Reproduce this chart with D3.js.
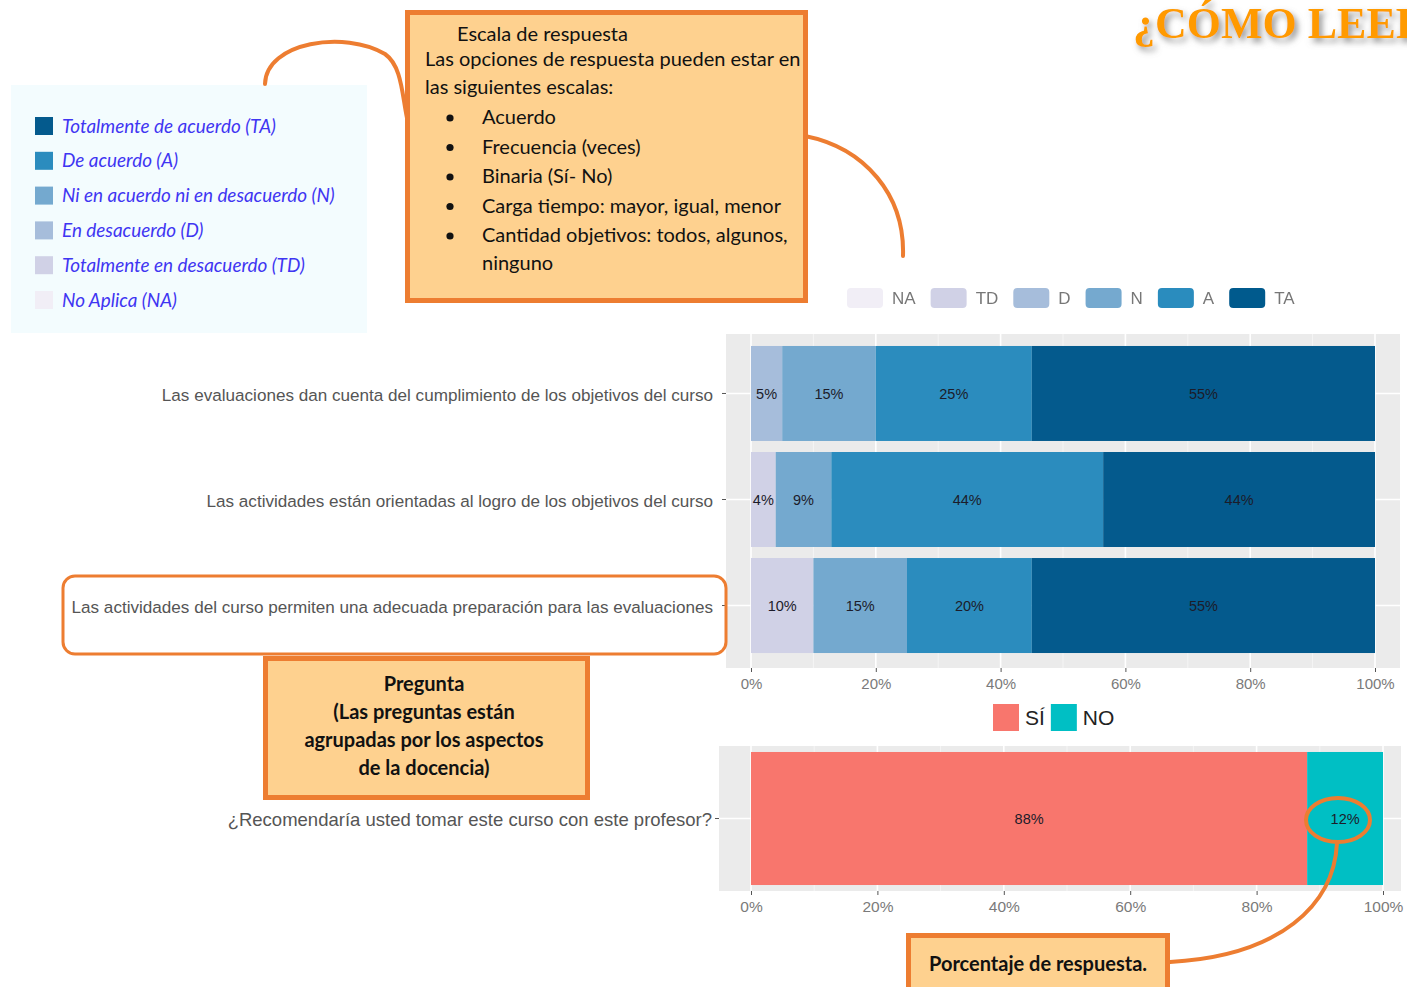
<!DOCTYPE html>
<html><head><meta charset="utf-8">
<script src="https://cdn.jsdelivr.net/npm/d3@7"></script>
<style>
html,body{margin:0;padding:0;background:#fff;overflow:hidden}
svg{display:block}
</style></head><body>
<script>
// ---------- data ----------
const questions = [
  "Las evaluaciones dan cuenta del cumplimiento de los objetivos del curso",
  "Las actividades están orientadas al logro de los objetivos del curso",
  "Las actividades del curso permiten una adecuada preparación para las evaluaciones"
];
const levels = ["NA", "TD", "D", "N", "A", "TA"];
const levelNames = ["No Aplica (NA)", "Totalmente en desacuerdo (TD)", "En desacuerdo (D)",
  "Ni en acuerdo ni en desacuerdo (N)", "De acuerdo (A)", "Totalmente de acuerdo (TA)"];
const levelColors = ["#f1eef6", "#d0d1e6", "#a6bddb", "#74a9cf", "#2b8cbe", "#045a8d"];
const valuesNA = [0, 0, 0];
const valuesTD = [0, 4, 10];
const valuesD  = [5, 0, 0];
const valuesN  = [15, 9, 15];
const valuesA  = [25, 44, 20];
const valuesTA = [55, 44, 55];
const xTicks = [0, 0.2, 0.4, 0.6, 0.8, 1];
const xMinor = [0.1, 0.3, 0.5, 0.7, 0.9];

const binQuestion = ["¿Recomendaría usted tomar este curso con este profesor?"];
const binLevels = ["SÍ", "NO"];
const binColors = ["#F8766D", "#00BFC4"];
const valuesSi = [88];
const valuesNo = [12];

const scaleTitle = "Escala de respuesta";
const scaleIntro = ["Las opciones de respuesta pueden estar en", "las siguientes escalas:"];
const scaleOptions = ["Acuerdo", "Frecuencia (veces)", "Binaria (Sí- No)",
  "Carga tiempo: mayor, igual, menor", "Cantidad objetivos: todos, algunos,"];
const scaleOptionTail = "ninguno";
const preguntaLines = ["Pregunta", "(Las preguntas están", "agrupadas por los aspectos", "de la docencia)"];
const porcentajeText = "Porcentaje de respuesta.";
const pageTitle = "¿CÓMO LEER";

// ---------- setup ----------
const W = 1407, H = 987;
const ORANGE = "#ed7d31", PEACH = "#fed18f";
const svg = d3.select("body").append("svg").attr("width", W).attr("height", H);
const defs = svg.append("defs");
const sh = defs.append("filter").attr("id", "shadow").attr("x", "-20%").attr("y", "-40%").attr("width", "140%").attr("height", "180%");
sh.append("feDropShadow").attr("dx", 3).attr("dy", 4).attr("stdDeviation", 3).attr("flood-color", "#777").attr("flood-opacity", 0.8);
const blur = defs.append("filter").attr("id", "soft");
blur.append("feGaussianBlur").attr("stdDeviation", 0.45);

// ---------- title ----------
svg.append("text").attr("x", 1133).attr("y", 38)
  .attr("font-family", "Liberation Serif, serif").attr("font-weight", "bold")
  .attr("font-size", 44).attr("fill", "#ff9a00").attr("filter", "url(#shadow)")
  .text(pageTitle);

// ---------- left legend ----------
const lg = svg.append("g");
lg.append("rect").attr("x", 11).attr("y", 85).attr("width", 356).attr("height", 248).attr("fill", "#f3fcfe");
const legOrder = d3.range(levels.length).reverse();
const legY = d3.scalePoint().domain(legOrder).range([126, 300]);
legOrder.forEach(i => {
  lg.append("rect").attr("x", 35).attr("y", legY(i) - 9).attr("width", 18).attr("height", 18)
    .attr("fill", levelColors[i]);
  lg.append("text").attr("x", 62).attr("y", legY(i)).attr("dy", "0.35em")
    .attr("font-family", "Lato, sans-serif").attr("font-style", "italic")
    .attr("font-size", 18.9).attr("fill", "#3f35f2").text(levelNames[i]);
});

// ---------- main stacked chart ----------
const x = d3.scaleLinear().domain([0, 1]).range([751, 1375]);
const y = d3.scaleBand().domain(questions).range([334, 665]).paddingInner(0.104).paddingOuter(0.113);
const panel = {x0: 726, x1: 1400, y0: 334, y1: 668};
const g1 = svg.append("g");
g1.append("rect").attr("x", panel.x0).attr("y", panel.y0).attr("width", panel.x1 - panel.x0)
  .attr("height", panel.y1 - panel.y0).attr("fill", "#ebebeb");
xMinor.forEach(t => g1.append("line").attr("x1", x(t)).attr("x2", x(t)).attr("y1", panel.y0).attr("y2", panel.y1)
  .attr("stroke", "#f5f5f5").attr("stroke-width", 1));
xTicks.forEach(t => g1.append("line").attr("x1", x(t)).attr("x2", x(t)).attr("y1", panel.y0).attr("y2", panel.y1)
  .attr("stroke", "#fff").attr("stroke-width", 1.6));
questions.forEach(q => g1.append("line").attr("x1", panel.x0).attr("x2", panel.x1)
  .attr("y1", y(q) + y.bandwidth() / 2).attr("y2", y(q) + y.bandwidth() / 2)
  .attr("stroke", "#fff").attr("stroke-width", 1.6));

const seriesVals = [valuesNA, valuesTD, valuesD, valuesN, valuesA, valuesTA];
const rows = questions.map((q, i) => {
  const obj = {q};
  levels.forEach((l, j) => obj[l] = seriesVals[j][i]);
  return obj;
});
const stack = d3.stack().keys(levels).offset(d3.stackOffsetExpand);
const stacked = stack(rows);
stacked.forEach((s, j) => {
  s.forEach(d => {
    const v = d.data[levels[j]];
    if (v <= 0) return;
    g1.append("rect").attr("x", x(d[0])).attr("y", y(d.data.q))
      .attr("width", x(d[1]) - x(d[0])).attr("height", y.bandwidth())
      .attr("fill", levelColors[j]);
    g1.append("text").attr("x", (x(d[0]) + x(d[1])) / 2).attr("y", y(d.data.q) + y.bandwidth() / 2)
      .attr("dy", "0.4em").attr("text-anchor", "middle")
      .attr("font-family", "Liberation Sans, Arial, sans-serif").attr("font-size", 14.5)
      .attr("fill", "#1c1c2a").text(v + "%");
  });
});
// axes
const xAxis1 = d3.axisBottom(x).tickValues(xTicks).tickFormat(d3.format(".0%")).tickSize(4).tickPadding(6);
const ax1 = g1.append("g").attr("transform", `translate(0,${panel.y1})`).call(xAxis1);
ax1.select(".domain").remove();
ax1.selectAll("line").attr("stroke", "#555");
ax1.selectAll("text").attr("font-family", "Liberation Sans, Arial, sans-serif").attr("font-size", 15).attr("fill", "#7a7a7a");
const yAxis1 = d3.axisLeft(y).tickSize(4).tickPadding(9);
const ay1 = g1.append("g").attr("transform", `translate(${panel.x0},0)`).call(yAxis1);
ay1.select(".domain").remove();
ay1.selectAll("line").attr("stroke", "#555");
ay1.selectAll("text").attr("font-family", "Liberation Sans, Arial, sans-serif").attr("font-size", 17.1)
  .attr("fill", "#555").attr("dy", "0.45em");

// top legend
const tl = svg.append("g").attr("filter", "url(#soft)");
let lx = 847;
levels.forEach((l, j) => {
  tl.append("rect").attr("x", lx).attr("y", 288).attr("width", 36).attr("height", 20).attr("rx", 4)
    .attr("fill", levelColors[j]);
  const t = tl.append("text").attr("x", lx + 45).attr("y", 298).attr("dy", "0.35em")
    .attr("font-family", "Liberation Sans, Arial, sans-serif").attr("font-size", 17).attr("fill", "#777").text(l);
  lx += 45 + t.node().getComputedTextLength() + 15;
});

// ---------- binary chart ----------
const x2 = d3.scaleLinear().domain([0, 1]).range([751, 1383]);
const panel2 = {x0: 719, x1: 1401, y0: 746, y1: 891};
const y2 = d3.scaleBand().domain(binQuestion).range([panel2.y0, panel2.y1]).paddingInner(0).paddingOuter(0.045);
const g2 = svg.append("g");
g2.append("rect").attr("x", panel2.x0).attr("y", panel2.y0).attr("width", panel2.x1 - panel2.x0)
  .attr("height", panel2.y1 - panel2.y0).attr("fill", "#ebebeb");
xMinor.forEach(t => g2.append("line").attr("x1", x2(t)).attr("x2", x2(t)).attr("y1", panel2.y0).attr("y2", panel2.y1)
  .attr("stroke", "#f5f5f5").attr("stroke-width", 1));
xTicks.forEach(t => g2.append("line").attr("x1", x2(t)).attr("x2", x2(t)).attr("y1", panel2.y0).attr("y2", panel2.y1)
  .attr("stroke", "#fff").attr("stroke-width", 1.6));
binQuestion.forEach(q => g2.append("line").attr("x1", panel2.x0).attr("x2", panel2.x1)
  .attr("y1", y2(q) + y2.bandwidth() / 2).attr("y2", y2(q) + y2.bandwidth() / 2)
  .attr("stroke", "#fff").attr("stroke-width", 1.6));
const binRows = binQuestion.map((q, i) => ({q, "SÍ": valuesSi[i], "NO": valuesNo[i]}));
const bStack = d3.stack().keys(binLevels).offset(d3.stackOffsetExpand)(binRows);
bStack.forEach((s, j) => s.forEach(d => {
  g2.append("rect").attr("x", x2(d[0])).attr("y", y2(d.data.q)).attr("width", x2(d[1]) - x2(d[0]))
    .attr("height", y2.bandwidth()).attr("fill", binColors[j]);
  g2.append("text").attr("x", (x2(d[0]) + x2(d[1])) / 2).attr("y", y2(d.data.q) + y2.bandwidth() / 2)
    .attr("dy", "0.35em").attr("text-anchor", "middle")
    .attr("font-family", "Liberation Sans, Arial, sans-serif").attr("font-size", 14.5)
    .attr("fill", "#1c1c2a").text(d.data[binLevels[j]] + "%");
}));
const ax2 = g2.append("g").attr("transform", `translate(0,${panel2.y1})`)
  .call(d3.axisBottom(x2).tickValues(xTicks).tickFormat(d3.format(".0%")).tickSize(4).tickPadding(6));
ax2.select(".domain").remove();
ax2.selectAll("line").attr("stroke", "#555");
ax2.selectAll("text").attr("font-family", "Liberation Sans, Arial, sans-serif").attr("font-size", 15.5).attr("fill", "#7a7a7a");
const ay2 = g2.append("g").attr("transform", `translate(${panel2.x0},0)`).call(d3.axisLeft(y2).tickSize(4).tickPadding(3));
ay2.select(".domain").remove();
ay2.selectAll("line").attr("stroke", "#555");
ay2.selectAll("text").attr("font-family", "Liberation Sans, Arial, sans-serif").attr("font-size", 18.5)
  .attr("fill", "#555").attr("dy", "0.4em");

// binary legend
let bx = 993;
binLevels.forEach((l, j) => {
  svg.append("rect").attr("x", bx).attr("y", 704).attr("width", 26).attr("height", 27).attr("fill", binColors[j]);
  const t = svg.append("text").attr("x", bx + 32).attr("y", 718).attr("dy", "0.35em")
    .attr("font-family", "Liberation Sans, Arial, sans-serif").attr("font-size", 21).attr("fill", "#222").text(l);
  bx += 32 + t.node().getComputedTextLength() + 6;
});

// ---------- annotations ----------
const ann = svg.append("g");
const curve = (d) => ann.append("path").attr("d", d).attr("fill", "none").attr("stroke", ORANGE)
  .attr("stroke-width", 4).attr("stroke-linecap", "round");
curve("M265,84 C266,42 345,30 385,54 C402,66 402,95 407,118");
curve("M805,136 C865,148 905,195 903,256");
curve("M1337,843 C1334,905 1280,956 1170,962");
ann.append("ellipse").attr("cx", 1338).attr("cy", 820).attr("rx", 32).attr("ry", 22)
  .attr("fill", "none").attr("stroke", ORANGE).attr("stroke-width", 4);
ann.append("rect").attr("x", 63).attr("y", 576).attr("width", 663).attr("height", 78).attr("rx", 12)
  .attr("fill", "none").attr("stroke", ORANGE).attr("stroke-width", 3);

// scale box
ann.append("rect").attr("x", 407.5).attr("y", 12.5).attr("width", 398).attr("height", 288)
  .attr("fill", PEACH).attr("stroke", ORANGE).attr("stroke-width", 5);
const calib = "Lato, 'Open Sans', sans-serif";
const fs = 20;
ann.append("text").attr("x", 457).attr("y", 41).attr("font-family", calib).attr("font-size", fs).attr("fill", "#111").text(scaleTitle);
scaleIntro.forEach((s, i) => ann.append("text").attr("x", 425).attr("y", 66 + i * 28)
  .attr("font-family", calib).attr("font-size", fs).attr("fill", "#111").text(s));
scaleOptions.forEach((s, i) => {
  const yy = 124 + i * 29.5;
  ann.append("circle").attr("cx", 450).attr("cy", yy - 6).attr("r", 3.6).attr("fill", "#111");
  ann.append("text").attr("x", 482).attr("y", yy).attr("font-family", calib).attr("font-size", fs).attr("fill", "#111").text(s);
});
ann.append("text").attr("x", 482).attr("y", 124 + 5 * 29.5 - 2).attr("font-family", calib).attr("font-size", fs).attr("fill", "#111").text(scaleOptionTail);

// pregunta box
ann.append("rect").attr("x", 265.5).attr("y", 658.5).attr("width", 322).attr("height", 139)
  .attr("fill", PEACH).attr("stroke", ORANGE).attr("stroke-width", 5);
preguntaLines.forEach((s, i) => ann.append("text").attr("x", 424).attr("y", 691 + i * 28).attr("text-anchor", "middle")
  .attr("font-family", calib).attr("font-weight", "bold").attr("font-size", fs).attr("fill", "#111").text(s));

// porcentaje box
ann.append("rect").attr("x", 908.5).attr("y", 935.5).attr("width", 259).attr("height", 60)
  .attr("fill", PEACH).attr("stroke", ORANGE).attr("stroke-width", 5);
ann.append("text").attr("x", 929).attr("y", 971).attr("font-family", calib).attr("font-weight", "bold")
  .attr("font-size", fs).attr("fill", "#111").text(porcentajeText);
</script>
</body></html>
